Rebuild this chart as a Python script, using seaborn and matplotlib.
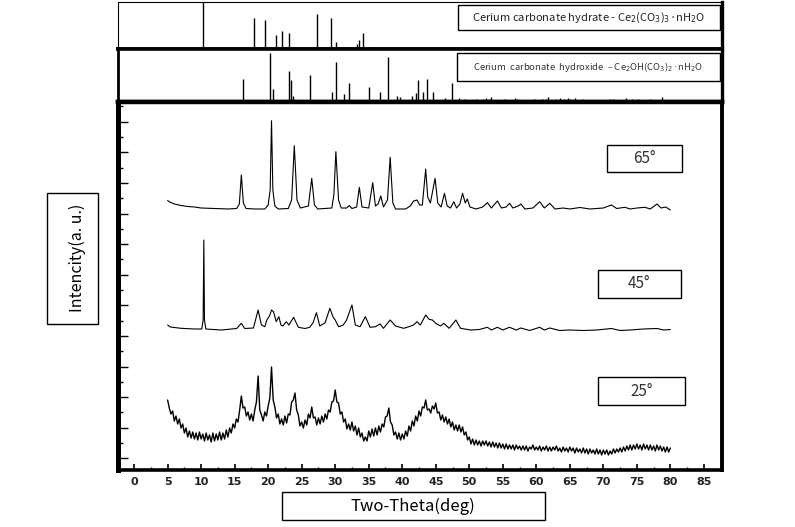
import numpy as np
import matplotlib
matplotlib.use("Agg")
import matplotlib.pyplot as plt
from matplotlib.patches import Rectangle
import seaborn as sns

# ---------------- data ----------------
# 65 deg sample : two-theta / intensity (a.u., offset included)
tt_65 = [5.0, 5.3, 6, 7, 8, 9, 10, 12, 14, 15.3, 15.7, 16.0, 16.3, 16.7, 18, 19.5,
         20.0, 20.3, 20.5, 20.7, 21.0, 21.5, 23.0, 23.5, 23.9, 24.3, 24.8, 26.0,
         26.5, 26.9, 27.4, 29.5, 29.8, 30.1, 30.5, 30.9, 31.7, 32.1, 32.5, 33.2,
         33.6, 34.0, 35.0, 35.6, 36.0, 36.4, 36.8, 37.2, 37.8, 38.2, 38.6, 39.0,
         40.5, 41.2, 41.7, 42.2, 42.6, 43.0, 43.5, 43.8, 44.2, 44.9, 45.3, 45.8,
         46.3, 46.7, 47.2, 47.7, 48.1, 48.6, 49.0, 49.4, 49.7, 50.1, 51, 52, 52.7,
         53.3, 54.2, 54.8, 55.5, 56.0, 56.5, 57.3, 57.7, 58.3, 59.5, 60.5, 61.2,
         62.0, 62.8, 64, 65, 66.5, 68, 70, 71.2, 72.0, 73.2, 74, 75.0, 76.2, 77,
         78.0, 78.6, 79.3, 80.0]
i_65 = [269.5, 268, 266, 264.5, 263.5, 263, 262, 261.5, 261, 261.5, 266, 295, 267,
        261.5, 261, 261, 265, 280, 349.3, 280, 264, 261, 261.5, 270, 324.3, 270,
        262, 264, 291.7, 265, 261, 262, 275, 318.3, 270, 262, 262, 264.5, 261.5,
        263, 282.7, 263, 262, 287.3, 264, 266, 274, 263, 270, 312.7, 267, 261,
        261, 264, 269, 270, 265, 265, 301, 273, 267, 291.7, 267, 263, 276.7, 264,
        262, 268.3, 262, 266, 276.7, 267, 271, 263, 261, 263, 267.3, 262, 269,
        262, 263, 266.7, 262, 264, 266, 261, 262, 268.3, 262, 266.7, 261, 262,
        261, 262.5, 261, 262, 265, 261.5, 262.7, 261, 262, 262.7, 261, 266, 262,
        263, 260]

# 45 deg sample
tt_45 = [5.0, 5.4, 7, 9, 10.1, 10.3, 10.4, 10.5, 10.7, 13, 15.3, 16.0, 16.5, 17.8,
         18.5, 19.0, 19.5, 19.8, 20.2, 20.5, 20.8, 21.2, 21.6, 21.9, 22.2, 22.7,
         23.1, 23.8, 24.5, 25.5, 26.2, 26.7, 27.2, 27.7, 28.5, 29.2, 29.7, 30.0,
         30.5, 31.2, 31.7, 32.5, 33.0, 33.7, 34.5, 35.2, 36.0, 36.7, 37.2, 38.2,
         39.0, 40.2, 41.0, 41.7, 42.2, 42.7, 43.5, 44.0, 44.5, 45.0, 45.7, 46.2,
         47.0, 48.0, 48.7, 50.2, 51.5, 52.7, 53.3, 54.2, 55, 56.0, 57, 57.7, 59,
         60.5, 61.2, 62.0, 63.5, 65, 67, 69, 71.2, 72.5, 74, 76, 78, 79, 80]
i_45 = [145, 143, 141.7, 141, 141, 150, 230, 150, 141, 140, 141.5, 146.7, 141.5,
        142, 160, 145, 143.3, 150, 154, 160, 158.3, 148.3, 153.3, 145, 144, 148.3,
        145, 152.7, 142.7, 141.5, 142.7, 147.3, 157.3, 144, 147.3, 161.7, 152.7,
        150, 143.3, 145, 150, 165, 145, 143.3, 153.3, 142.7, 143.3, 146, 141.7,
        150, 144, 141.7, 143.3, 145, 148.3, 145, 155, 150.7, 150, 146.7, 144,
        146.7, 141.7, 150, 141.7, 140, 140.5, 142.7, 140, 142.7, 140, 142.7, 140,
        142, 139.5, 142.7, 140, 142, 139.5, 140, 139.5, 140, 141.5, 139.5, 140,
        141, 141.5, 140, 140.5]

# 25 deg sample : intensity on a 0.25 deg grid from 5 to 80 deg
i_25 = [70, 62, 56, 59, 49, 54, 46, 51, 42, 46, 37, 42, 33, 39, 32, 38, 31, 37, 30, 38,
        31, 36, 29, 37, 30, 35, 28, 37, 29, 36, 30, 38, 30, 37, 31, 40, 33, 42, 37, 46,
        42, 51, 48, 60, 74, 62, 63, 54, 58, 50, 56, 49, 60, 68, 94, 60, 55, 49, 58, 54,
        64, 72, 103, 70, 63, 52, 56, 46, 51, 45, 54, 47, 56, 55, 68, 70, 77, 60, 55, 44,
        48, 42, 50, 45, 56, 52, 63, 52, 53, 45, 52, 46, 54, 48, 56, 51, 60, 58, 68, 69,
        80, 68, 67, 56, 58, 48, 51, 41, 46, 40, 48, 39, 44, 35, 42, 33, 37, 29, 33, 29,
        39, 33, 41, 34, 42, 35, 44, 38, 46, 43, 53, 54, 62, 48, 45, 35, 38, 31, 37, 30,
        36, 31, 39, 34, 44, 39, 49, 44, 54, 49, 59, 54, 63, 62, 70, 60, 61, 57, 64, 61,
        67, 57, 58, 50, 55, 48, 53, 46, 51, 43, 48, 40, 45, 39, 45, 38, 43, 35, 38, 30,
        33, 26, 31, 25, 30, 25, 29, 24, 29, 25, 29, 24, 28, 23, 28, 23, 27, 22, 27, 22,
        26, 21, 26, 21, 25, 21, 25, 20, 25, 21, 24, 20, 24, 20, 24, 19, 23, 21, 25, 20,
        23, 20, 24, 19, 23, 20, 24, 19, 23, 19, 23, 20, 24, 19, 22, 18, 23, 19, 22, 18,
        23, 19, 22, 17, 22, 18, 21, 17, 22, 17, 21, 16, 21, 17, 20, 16, 21, 16, 20, 15,
        20, 16, 20, 15, 19, 16, 21, 17, 21, 18, 22, 18, 23, 19, 24, 20, 25, 20, 25, 21,
        26, 21, 25, 20, 26, 21, 25, 20, 25, 20, 24, 19, 25, 20, 24, 19, 23, 18, 23, 18,
        22]

# reference patterns (stick positions, relative intensity %)
ref1_pos = [10.3, 17.9, 19.6, 21.2, 22.0, 23.1, 23.9, 27.3, 28.7, 29.3, 30.1, 32.1,
            33.2, 33.6, 34.2, 35.0]
ref1_int = [100, 66, 62, 30, 39, 34, 5, 74, 5, 66, 15, 5, 10, 19, 34, 4]
ref2_pos = [16.25, 20.33, 20.75, 23.13, 23.43, 23.72, 26.28, 29.55, 30.08, 31.25,
            32.12, 35.1, 36.67, 37.84, 39.24, 39.7, 41.51, 42.04, 42.39, 43.09,
            43.67, 44.66, 46.36, 47.4, 48.5, 49.3, 50.2, 51.0, 52.1, 52.5, 52.9,
            53.2, 55.3, 56.8, 57.1, 58.3, 59.7, 60.9, 61.5, 61.8, 62.9, 63.5, 64.1,
            64.7, 65.1, 65.8, 67.0, 71.0, 71.4, 72.2, 73.4, 74.3, 75.2, 76.0, 76.9,
            78.7]
ref2_int = [43, 93, 24, 59, 42, 11, 51, 19, 75, 15, 35, 28, 19, 84, 12, 9, 12, 17,
            42, 19, 43, 19, 8, 35, 8, 6, 4, 5, 5, 7, 6, 10, 5, 8, 5, 4, 6, 5, 6, 10,
            6, 7, 6, 7, 5, 7, 5, 5, 5, 4, 7, 5, 5, 4, 5, 10]

x_ticks = list(range(0, 90, 5))
sample_labels = ["65°", "45°", "25°"]
ref1_label = r"Cerium carbonate hydrate - Ce$_2$(CO$_3$)$_3$·nH$_2$O"
ref2_label = r"Cerium  carbonate  hydroxide  – Ce$_2$OH(CO$_3$)$_2$·nH$_2$O"
x_label = "Two-Theta(deg)"
y_label = "Intencity(a. u.)"

# ---------------- figure ----------------
W, H = 795, 527
sns.set_theme(style="white")
plt.rcParams["font.family"] = ["Noto Sans CJK KR", "DejaVu Sans"]
plt.rcParams["axes.facecolor"] = "white"
plt.rcParams["figure.facecolor"] = "white"

fig = plt.figure(figsize=(W / 100, H / 100), dpi=100)


def rect(x0, y0, x1, y1):
    return [x0 / W, 1 - y1 / H, (x1 - x0) / W, (y1 - y0) / H]


def fig_box(x0, y0, x1, y1, lw=1.0):
    fig.patches.append(Rectangle((x0 / W, 1 - y1 / H), (x1 - x0) / W, (y1 - y0) / H,
                                 transform=fig.transFigure, fill=False,
                                 edgecolor="black", linewidth=lw, zorder=5))


XL = (-2.4, 87.7)
ax1 = fig.add_axes(rect(118, 2, 722, 49))
ax2 = fig.add_axes(rect(118, 49, 722, 102))
ax3 = fig.add_axes(rect(118, 102, 722, 470))

# reference stick panels
for ax, pos, inten in ((ax1, ref1_pos, ref1_int), (ax2, ref2_pos, ref2_int)):
    ax.vlines(pos, 0, inten, color="black", linewidth=1.0)
    ax.set_xlim(*XL)
    ax.set_ylim(0, 100)
    ax.set_xticks([])
    ax.set_yticks([])
    for s in ax.spines.values():
        s.set_color("black")

ax1.spines["top"].set_linewidth(0.8)
ax1.spines["left"].set_linewidth(0.8)
ax1.spines["right"].set_linewidth(2.4)
ax1.spines["bottom"].set_linewidth(2.6)
ax2.spines["top"].set_linewidth(2.6)
ax2.spines["left"].set_linewidth(2.0)
ax2.spines["right"].set_linewidth(2.4)
ax2.spines["bottom"].set_linewidth(3.2)

# main patterns
x25 = np.linspace(5, 80, len(i_25))
sns.lineplot(x=tt_65, y=i_65, ax=ax3, color="black", linewidth=0.8, estimator=None)
sns.lineplot(x=tt_45, y=i_45, ax=ax3, color="black", linewidth=0.8, estimator=None)
sns.lineplot(x=x25, y=i_25, ax=ax3, color="black", linewidth=1.0, estimator=None)

ax3.set_xlim(*XL)
ax3.set_ylim(0, 368)
ax3.set_xlabel("")
ax3.set_ylabel("")
ax3.set_xticks(x_ticks)
ax3.set_xticks(np.arange(2.5, 88, 5), minor=True)
ax3.set_yticks(np.arange(11.7, 368, 30.6))
ax3.set_yticks(np.arange(27.0, 368, 30.6), minor=True)
ax3.tick_params(axis="x", which="major", bottom=True, direction="in", length=4.5,
                width=1.2, color="black", pad=5, labelsize=8, labelcolor="#222222")
ax3.tick_params(axis="x", which="minor", bottom=True, direction="in", length=2.2,
                width=1.0, color="black")
ax3.tick_params(axis="y", which="major", left=True, direction="in", length=7.5,
                width=1.0, color="black", labelleft=False)
ax3.tick_params(axis="y", which="minor", left=True, direction="in", length=3.6,
                width=1.0, color="black")
ax3.set_xticklabels([str(v) for v in x_ticks], fontfamily="DejaVu Sans",
                    fontweight="bold")
for s in ax3.spines.values():
    s.set_color("black")
ax3.spines["left"].set_linewidth(3.6)
ax3.spines["bottom"].set_linewidth(2.6)
ax3.spines["right"].set_linewidth(2.8)
ax3.spines["top"].set_linewidth(3.2)

# legend boxes for reference panels
fig_box(458, 5, 720, 30)
fig.text(589 / W, 1 - 17.5 / H, ref1_label, ha="center", va="center", fontsize=8,
         color="#222222")
fig_box(457, 53, 720, 81)
fig.text(588 / W, 1 - 67 / H, ref2_label, ha="center", va="center", fontsize=6.8,
         color="#333333")

# sample boxes
for lab, (x0, y0, x1, y1) in zip(sample_labels,
                                 [(607, 145, 682, 172), (598, 270, 681, 298),
                                  (598, 377, 685, 405)]):
    fig_box(x0, y0, x1, y1)
    fig.text((x0 + x1) / 2 / W, 1 - ((y0 + y1) / 2) / H, lab, ha="center",
             va="center", fontsize=11, color="#333333")

# axis label boxes
fig_box(282, 492, 545, 520)
fig.text(413 / W, 1 - 506 / H, x_label, ha="center", va="center", fontsize=12,
         color="black")
fig_box(47, 193, 98, 324)
fig.text(77 / W, 1 - 258 / H, y_label, ha="center", va="center", fontsize=11.5,
         rotation=90, color="black")

fig.savefig("out.png", dpi=100, facecolor="white")
